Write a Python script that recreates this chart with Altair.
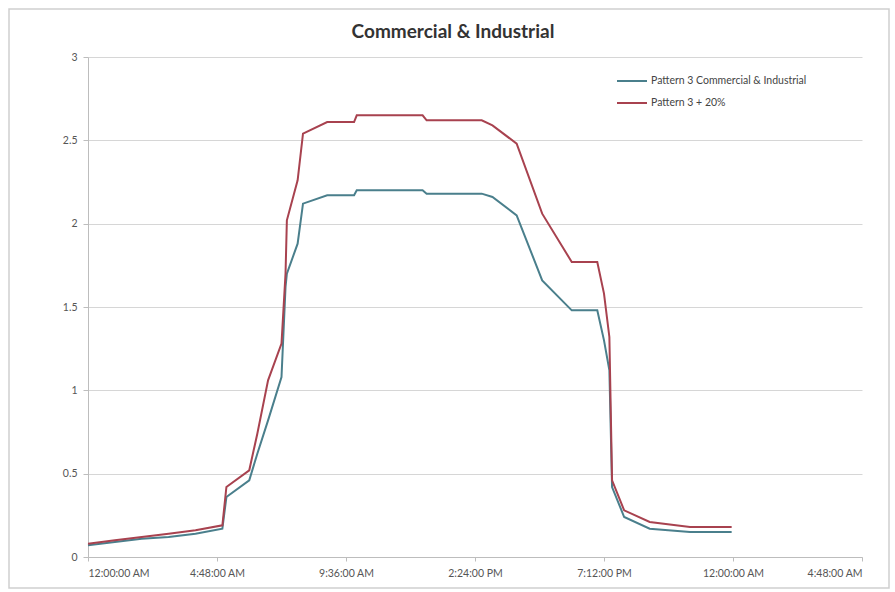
import altair as alt
import pandas as pd

# Hourly load shape (hours after midnight) for the two patterns
base_hours = [0, 1, 2, 3, 4, 5.0, 5.15, 6.0, 6.3, 6.7, 7.2, 7.35, 7.4, 7.8, 8.0,
              8.9, 9.9, 10.0, 12.45, 12.6, 14.65, 15.05, 15.95, 16.9, 18.0, 18.95,
              19.2, 19.4, 19.5, 19.95, 20.9, 22.4, 23.95]

ci_values = [0.07, 0.09, 0.11, 0.12, 0.14, 0.17, 0.36, 0.46, 0.62, 0.82, 1.08, 1.62,
             1.70, 1.88, 2.12, 2.17, 2.17, 2.20, 2.20, 2.18, 2.18, 2.16, 2.05, 1.66,
             1.48, 1.48, 1.30, 1.12, 0.42, 0.24, 0.17, 0.15, 0.15]

plus20_values = [0.08, 0.10, 0.12, 0.14, 0.16, 0.19, 0.42, 0.52, 0.74, 1.06, 1.28, 1.70,
                 2.02, 2.26, 2.54, 2.61, 2.61, 2.65, 2.65, 2.62, 2.62, 2.59, 2.48, 2.06,
                 1.77, 1.77, 1.58, 1.32, 0.46, 0.28, 0.21, 0.18, 0.18]

series_names = ["Pattern 3 Commercial & Industrial", "Pattern 3 + 20%"]
series_colors = ["#4a7f8c", "#a8424f"]

tick_hours = [0, 4.8, 9.6, 14.4, 19.2, 24, 28.8]
tick_labels = ["12:00:00 AM", "4:48:00 AM", "9:36:00 AM", "2:24:00 PM",
               "7:12:00 PM", "12:00:00 AM", "4:48:00 AM"]
load_ticks = [0, 0.5, 1, 1.5, 2, 2.5, 3]

rows = []
for name, vals in zip(series_names, [ci_values, plus20_values]):
    for h, v in zip(base_hours, vals):
        rows.append({"hour": h, "load": v, "series": name})
df = pd.DataFrame(rows)

label_map = "{" + ", ".join(f"'{h}': '{l}'" for h, l in zip(tick_hours, tick_labels)) + "}"

FONT = "Lato"
SMALL = 10.5

lines = alt.Chart(df).mark_line(strokeWidth=2).encode(
    x=alt.X("hour:Q",
            scale=alt.Scale(domain=[0, 28.8], nice=False, zero=False),
            axis=alt.Axis(values=tick_hours, title=None, grid=False,
                          labelExpr=f"{label_map}[toString(datum.value)]",
                          labelFontSize=SMALL, labelColor="#555555", labelPadding=7,
                          tickSize=4, tickColor="#bdbdbd", domainColor="#bdbdbd",
                          labelFont=FONT)),
    y=alt.Y("load:Q",
            scale=alt.Scale(domain=[0, 3], nice=False),
            axis=alt.Axis(values=load_ticks, title=None, format="~g",
                          labelFontSize=SMALL, labelColor="#555555", labelPadding=6,
                          tickSize=5, tickColor="#bdbdbd", domainColor="#bdbdbd",
                          gridColor="#d6d6d6", gridWidth=1, labelFont=FONT)),
    color=alt.Color("series:N",
                    scale=alt.Scale(domain=series_names, range=series_colors),
                    legend=alt.Legend(orient="none", legendX=528, legendY=8,
                                      title=None, symbolType="stroke",
                                      symbolSize=900, symbolStrokeWidth=2,
                                      labelFontSize=SMALL, labelColor="#444444",
                                      labelFont=FONT, rowPadding=-10,
                                      labelOffset=3)),
)

# light outer frame around the whole chart
frame = alt.Chart(pd.DataFrame({"k": [0]})).mark_rect(
    fill=None, stroke="#cfcfcf", strokeWidth=1.5
).encode(x=alt.value(-79), x2=alt.value(801), y=alt.value(-48), y2=alt.value(531))

chart = alt.layer(frame, lines).properties(
    width=774, height=500,
    title=alt.TitleParams("Commercial & Industrial", fontSize=19, font=FONT,
                          fontWeight="bold", color="#333333", anchor="middle",
                          baseline="middle", dx=-22, offset=-43),
    autosize=alt.AutoSizeParams(type="none"),
    padding={"left": 88, "top": 57, "right": 33, "bottom": 35},
    background="white",
).configure_view(stroke=None)

chart.save("out.html", embed_options={"renderer": "svg", "actions": False})
